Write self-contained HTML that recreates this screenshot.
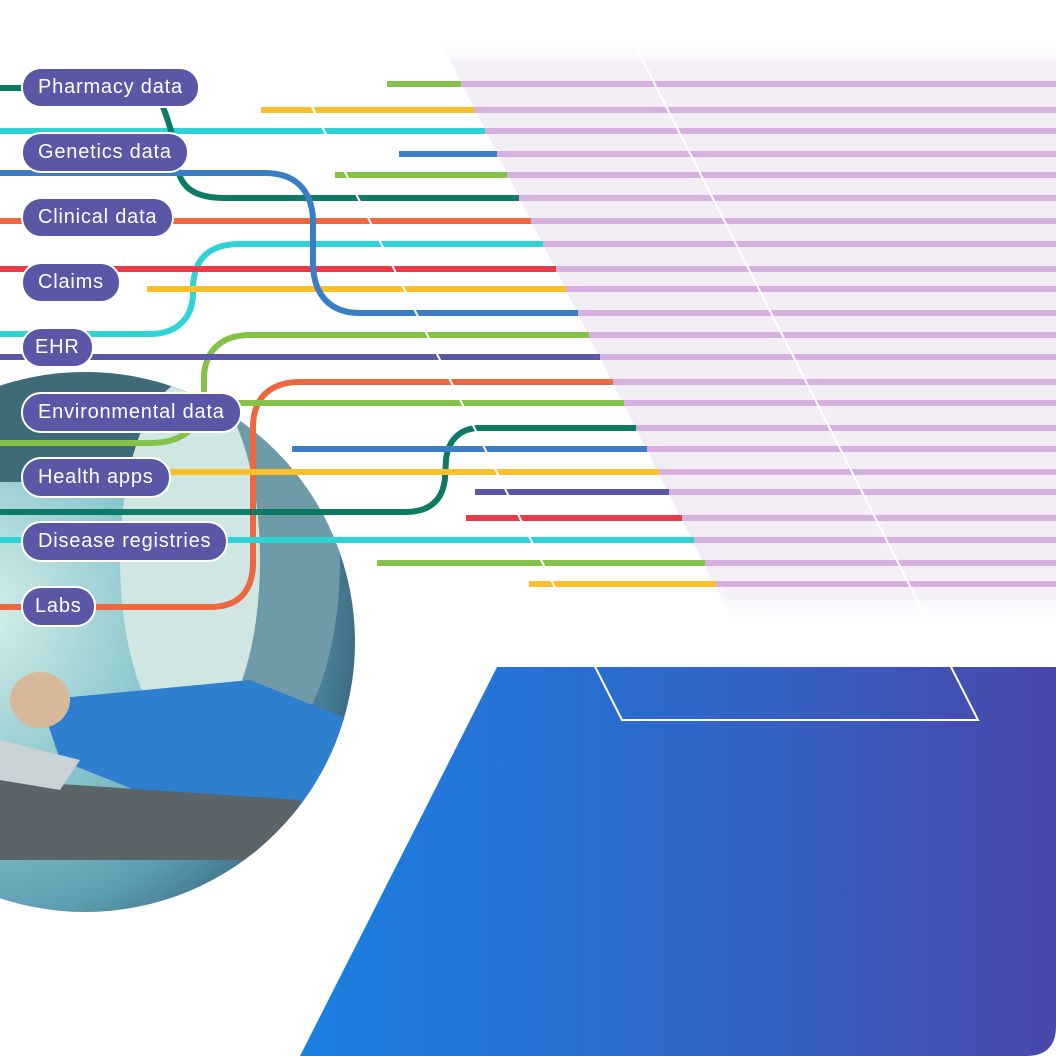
<!DOCTYPE html>
<html><head><meta charset="utf-8"><style>
html,body{margin:0;padding:0;background:#fff;width:1056px;height:1056px;overflow:hidden}
.lbl{position:absolute;left:21px;height:37px;background:#5a57a6;border:2px solid #fff;border-radius:20px;color:#fff;font:20px "Liberation Sans",sans-serif;line-height:37px;padding:0 15px;box-sizing:content-box;white-space:nowrap;letter-spacing:0.8px}
</style></head><body>
<svg width="1056" height="1056" style="position:absolute;left:0;top:0">
<defs>
<linearGradient id="bg" x1="0" x2="1" y1="0" y2="0"><stop offset="0" stop-color="#1b80e2"/><stop offset="0.55" stop-color="#2f66c8"/><stop offset="1" stop-color="#4a47aa"/></linearGradient>
<linearGradient id="lav" x1="0" x2="0" y1="0" y2="1"><stop offset="0" stop-color="#f2edf6" stop-opacity="0"/><stop offset="0.08" stop-color="#f2ecf6"/><stop offset="0.9" stop-color="#f2ecf6"/><stop offset="1" stop-color="#f2ecf6" stop-opacity="0"/></linearGradient>
<radialGradient id="ph" cx="0.3" cy="0.45" r="0.7"><stop offset="0" stop-color="#d8f0ea"/><stop offset="0.45" stop-color="#8ec9cf"/><stop offset="0.8" stop-color="#5d9fb2"/><stop offset="1" stop-color="#3f6f86"/></radialGradient>
<clipPath id="cc"><circle cx="85" cy="642" r="270"/></clipPath>
</defs>
<path d="M497 667 H1056 V1026 Q1056 1056 1026 1056 H300 Z" fill="url(#bg)"/>
<polygon points="440,40 1056,40 1056,625 735,625" fill="url(#lav)"/>
<circle cx="85" cy="642" r="270" fill="url(#ph)"/>
<g clip-path="url(#cc)">
<rect x="-200" y="372" width="600" height="110" fill="#3f6a78"/>
<ellipse cx="250" cy="560" rx="90" ry="200" fill="#6f9aa8"/>
<ellipse cx="190" cy="560" rx="70" ry="180" fill="#cfe6e3"/>
<path d="M40 700 L250 680 L350 720 L340 820 L160 800 L60 760 Z" fill="#2f7fcf"/>
<ellipse cx="40" cy="700" rx="30" ry="28" fill="#d8b89a"/>
<path d="M0 780 L300 800 L320 860 L0 860 Z" fill="#5b6468"/>
<path d="M0 740 L80 760 L60 790 L0 780 Z" fill="#c9d2d4"/>
</g>
<g stroke-width="6" fill="none" stroke-linecap="butt">
<line x1="387" y1="84" x2="1056" y2="84" stroke="#84c24a"/>
<line x1="261" y1="110" x2="1056" y2="110" stroke="#fbbf2a"/>
<line x1="0" y1="131" x2="1056" y2="131" stroke="#2ed3d6"/>
<line x1="399" y1="154" x2="1056" y2="154" stroke="#3a7dc4"/>
<line x1="335" y1="175" x2="1056" y2="175" stroke="#84c24a"/>
<path d="M0 88 H25 M163 107 C170 125 176 145 177 165 C180 188 195 198 225 198 H1056" stroke="#0c7a64"/>
<line x1="0" y1="221" x2="1056" y2="221" stroke="#ec6840"/>
<path d="M0 334 H150 C175 334 192 320 193 295 V285 C195 258 210 244 240 244 H1056" stroke="#2ed3d6"/>
<line x1="0" y1="269" x2="1056" y2="269" stroke="#ea3a4a"/>
<line x1="147" y1="289" x2="1056" y2="289" stroke="#fbbf2a"/>
<path d="M0 173 H265 C295 173 312 190 313 220 V265 C314 295 330 313 360 313 H1056" stroke="#3a7dc4"/>
<path d="M0 443 H150 C185 443 203 425 204 395 V375 C206 350 222 335 250 335 H1056" stroke="#84c24a"/>
<line x1="0" y1="357" x2="1056" y2="357" stroke="#5a57a6"/>
<path d="M0 607 H210 C238 607 252 592 253 565 V425 C254 398 270 382 300 382 H1056" stroke="#ec6840"/>
<line x1="175" y1="403" x2="1056" y2="403" stroke="#84c24a"/>
<path d="M0 512 H405 C430 512 443 500 445 478 L446 460 C448 440 460 428 480 428 H1056" stroke="#0c7a64"/>
<line x1="292" y1="449" x2="1056" y2="449" stroke="#3a7dc4"/>
<line x1="125" y1="472" x2="1056" y2="472" stroke="#fbbf2a"/>
<line x1="475" y1="492" x2="1056" y2="492" stroke="#5a57a6"/>
<line x1="466" y1="518" x2="1056" y2="518" stroke="#ea3a4a"/>
<line x1="0" y1="540" x2="1056" y2="540" stroke="#2ed3d6"/>
<line x1="377" y1="563" x2="1056" y2="563" stroke="#84c24a"/>
<line x1="529" y1="584" x2="1056" y2="584" stroke="#fbbf2a"/>
</g>
<polygon points="450,60 1056,60 1056,600 730,600" fill="#f3eef7" opacity="0.7"/>
<g stroke="#d6b0de" stroke-width="6">
<line x1="461" y1="84" x2="1056" y2="84"/><line x1="474" y1="110" x2="1056" y2="110"/><line x1="485" y1="131" x2="1056" y2="131"/><line x1="497" y1="154" x2="1056" y2="154"/><line x1="507" y1="175" x2="1056" y2="175"/><line x1="519" y1="198" x2="1056" y2="198"/><line x1="531" y1="221" x2="1056" y2="221"/><line x1="543" y1="244" x2="1056" y2="244"/><line x1="556" y1="269" x2="1056" y2="269"/><line x1="566" y1="289" x2="1056" y2="289"/><line x1="578" y1="313" x2="1056" y2="313"/><line x1="589" y1="335" x2="1056" y2="335"/><line x1="600" y1="357" x2="1056" y2="357"/><line x1="613" y1="382" x2="1056" y2="382"/><line x1="624" y1="403" x2="1056" y2="403"/><line x1="636" y1="428" x2="1056" y2="428"/><line x1="647" y1="449" x2="1056" y2="449"/><line x1="659" y1="472" x2="1056" y2="472"/><line x1="669" y1="492" x2="1056" y2="492"/><line x1="682" y1="518" x2="1056" y2="518"/><line x1="694" y1="540" x2="1056" y2="540"/><line x1="705" y1="563" x2="1056" y2="563"/><line x1="716" y1="584" x2="1056" y2="584"/>
</g>
<polyline points="258,0 622,720 978,720 612,0" fill="none" stroke="#fff" stroke-width="2"/>
</svg>
<div class="lbl" style="top:67px">Pharmacy data</div>
<div class="lbl" style="top:132px">Genetics data</div>
<div class="lbl" style="top:197px">Clinical data</div>
<div class="lbl" style="top:262px">Claims</div>
<div class="lbl" style="top:327px;padding:0 12px">EHR</div>
<div class="lbl" style="top:392px">Environmental data</div>
<div class="lbl" style="top:457px">Health apps</div>
<div class="lbl" style="top:521px">Disease registries</div>
<div class="lbl" style="top:586px;padding:0 12px">Labs</div>
</body></html>
